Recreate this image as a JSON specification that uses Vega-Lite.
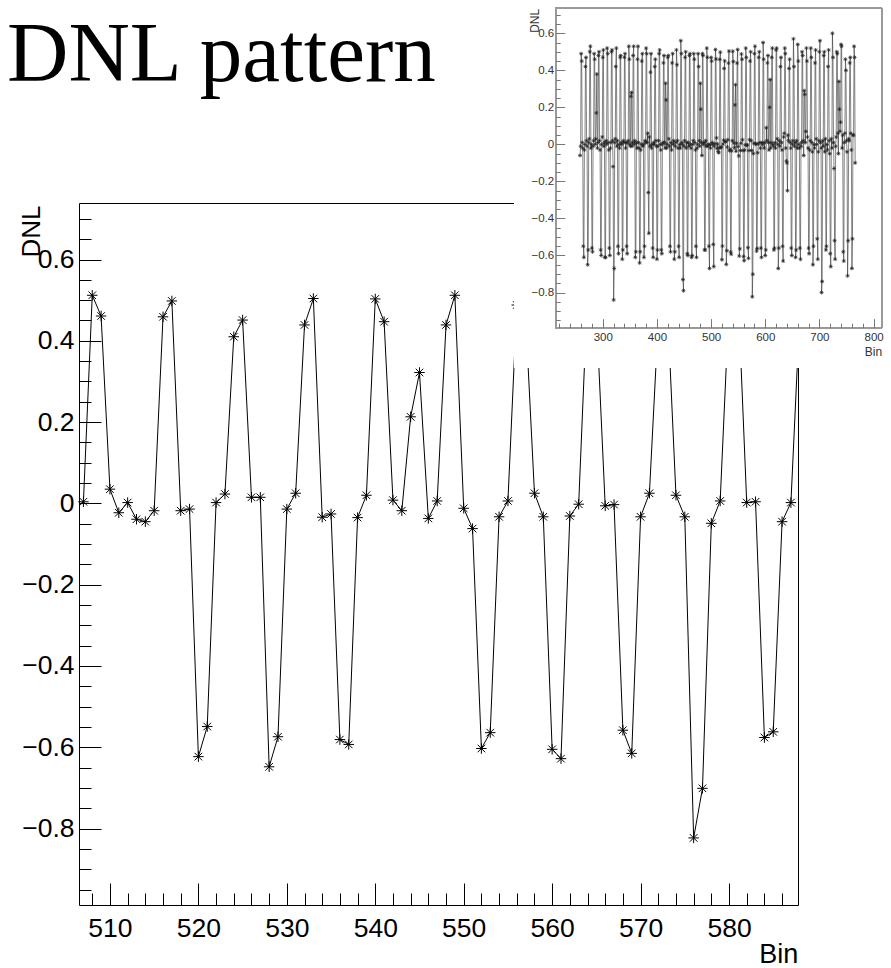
{
"$schema": "https://vega.github.io/schema/vega-lite/v6.json",
"width": 719, "height": 702,
"autosize": {"type": "none"},
"padding": {"left": 79, "top": 203, "right": 93, "bottom": 63},
"background": "white",
"title": {"text": "DNL pattern", "font": "Liberation Serif", "fontSize": 85, "fontWeight": "normal", "color": "black", "anchor": "start", "frame": "group", "dx": -72, "dy": 170, "offset": 0, "baseline": "alphabetic"},
"config": {"view": {"stroke": "black", "strokeWidth": 1}, "axis": {"grid": false, "labelFont": "Liberation Sans", "titleFont": "Liberation Sans", "titleFontWeight": "normal"}},
"datasets": {"dnl": [
{"b":258,"v":-0.06},{"b":259,"v":-0.01},{"b":260,"v":0.49},{"b":261,"v":0.45},{"b":262,"v":0.01},{"b":263,"v":-0.02},
{"b":264,"v":-0.55},{"b":265,"v":-0.61},{"b":266,"v":-0.03},{"b":267,"v":0.0},{"b":268,"v":0.42},{"b":269,"v":0.47},{"b":270,"v":0.02},{"b":271,"v":-0.01},
{"b":272,"v":-0.65},{"b":273,"v":-0.57},{"b":274,"v":0.01},{"b":275,"v":0.03},{"b":276,"v":0.5},{"b":277,"v":0.53},{"b":278,"v":-0.02},{"b":279,"v":0.0},
{"b":280,"v":-0.56},{"b":281,"v":-0.58},{"b":282,"v":-0.01},{"b":283,"v":0.02},{"b":284,"v":0.49},{"b":285,"v":0.46},{"b":286,"v":0.0},{"b":287,"v":0.03},
{"b":288,"v":0.17},{"b":289,"v":0.38},{"b":290,"v":-0.02},{"b":291,"v":0.01},{"b":292,"v":0.48},{"b":293,"v":0.5},{"b":294,"v":0.02},{"b":295,"v":-0.03},
{"b":296,"v":-0.57},{"b":297,"v":-0.6},{"b":298,"v":0.0},{"b":299,"v":0.04},{"b":300,"v":0.47},{"b":301,"v":0.51},{"b":302,"v":-0.01},{"b":303,"v":0.01},
{"b":304,"v":-0.61},{"b":305,"v":-0.61},{"b":306,"v":0.02},{"b":307,"v":0.0},{"b":308,"v":0.52},{"b":309,"v":0.49},{"b":310,"v":0.01},{"b":311,"v":-0.03},
{"b":312,"v":-0.56},{"b":313,"v":-0.6},{"b":314,"v":-0.02},{"b":315,"v":0.01},{"b":316,"v":0.5},{"b":317,"v":0.51},{"b":318,"v":0.02},{"b":319,"v":-0.12},
{"b":320,"v":-0.84},{"b":321,"v":-0.67},{"b":322,"v":0.01},{"b":323,"v":0.03},{"b":324,"v":0.42},{"b":325,"v":0.52},{"b":326,"v":-0.01},{"b":327,"v":0.02},
{"b":328,"v":-0.55},{"b":329,"v":-0.59},{"b":330,"v":0.0},{"b":331,"v":-0.02},{"b":332,"v":0.47},{"b":333,"v":0.48},{"b":334,"v":0.01},{"b":335,"v":0.0},
{"b":336,"v":-0.62},{"b":337,"v":-0.57},{"b":338,"v":0.02},{"b":339,"v":0.01},{"b":340,"v":0.47},{"b":341,"v":0.49},{"b":342,"v":-0.02},{"b":343,"v":0.01},
{"b":344,"v":-0.55},{"b":345,"v":-0.59},{"b":346,"v":0.01},{"b":347,"v":0.02},{"b":348,"v":0.53},{"b":349,"v":0.46},{"b":350,"v":0.0},{"b":351,"v":-0.01},
{"b":352,"v":0.26},{"b":353,"v":0.28},{"b":354,"v":-0.01},{"b":355,"v":0.01},{"b":356,"v":0.48},{"b":357,"v":0.53},{"b":358,"v":0.0},{"b":359,"v":0.02},
{"b":360,"v":-0.61},{"b":361,"v":-0.58},{"b":362,"v":0.01},{"b":363,"v":-0.02},{"b":364,"v":0.46},{"b":365,"v":0.53},{"b":366,"v":0.01},{"b":367,"v":-0.02},
{"b":368,"v":-0.64},{"b":369,"v":-0.58},{"b":370,"v":-0.03},{"b":371,"v":0.0},{"b":372,"v":0.45},{"b":373,"v":0.49},{"b":374,"v":-0.01},{"b":375,"v":0.0},
{"b":376,"v":-0.61},{"b":377,"v":-0.55},{"b":378,"v":0.02},{"b":379,"v":0.01},{"b":380,"v":0.52},{"b":381,"v":0.49},{"b":382,"v":0.01},{"b":383,"v":0.06},
{"b":384,"v":-0.26},{"b":385,"v":-0.48},{"b":386,"v":0.04},{"b":387,"v":-0.01},{"b":388,"v":0.39},{"b":389,"v":0.49},{"b":390,"v":-0.02},{"b":391,"v":0.0},
{"b":392,"v":-0.56},{"b":393,"v":-0.61},{"b":394,"v":0.01},{"b":395,"v":0.0},{"b":396,"v":0.42},{"b":397,"v":0.46},{"b":398,"v":0.02},{"b":399,"v":-0.01},
{"b":400,"v":-0.62},{"b":401,"v":-0.57},{"b":402,"v":-0.01},{"b":403,"v":0.02},{"b":404,"v":0.49},{"b":405,"v":0.51},{"b":406,"v":0.0},{"b":407,"v":-0.03},
{"b":408,"v":-0.57},{"b":409,"v":-0.59},{"b":410,"v":0.0},{"b":411,"v":0.01},{"b":412,"v":0.44},{"b":413,"v":0.48},{"b":414,"v":0.01},{"b":415,"v":-0.02},
{"b":416,"v":0.33},{"b":417,"v":0.24},{"b":418,"v":-0.02},{"b":419,"v":0.0},{"b":420,"v":0.47},{"b":421,"v":0.48},{"b":422,"v":0.03},{"b":423,"v":-0.01},
{"b":424,"v":-0.55},{"b":425,"v":-0.58},{"b":426,"v":0.01},{"b":427,"v":-0.03},{"b":428,"v":0.44},{"b":429,"v":0.49},{"b":430,"v":0.0},{"b":431,"v":0.02},
{"b":432,"v":-0.62},{"b":433,"v":-0.58},{"b":434,"v":-0.01},{"b":435,"v":0.01},{"b":436,"v":0.51},{"b":437,"v":0.43},{"b":438,"v":0.02},{"b":439,"v":-0.02},
{"b":440,"v":-0.55},{"b":441,"v":-0.61},{"b":442,"v":0.0},{"b":443,"v":-0.02},{"b":444,"v":0.56},{"b":445,"v":0.49},{"b":446,"v":0.01},{"b":447,"v":0.0},
{"b":448,"v":-0.73},{"b":449,"v":-0.79},{"b":450,"v":-0.01},{"b":451,"v":0.02},{"b":452,"v":0.47},{"b":453,"v":0.5},{"b":454,"v":-0.02},{"b":455,"v":0.01},
{"b":456,"v":-0.59},{"b":457,"v":-0.6},{"b":458,"v":0.01},{"b":459,"v":-0.01},{"b":460,"v":0.48},{"b":461,"v":0.49},{"b":462,"v":0.0},{"b":463,"v":-0.02},
{"b":464,"v":-0.61},{"b":465,"v":-0.6},{"b":466,"v":0.0},{"b":467,"v":0.02},{"b":468,"v":0.49},{"b":469,"v":0.46},{"b":470,"v":0.01},{"b":471,"v":-0.03},
{"b":472,"v":-0.55},{"b":473,"v":-0.61},{"b":474,"v":-0.02},{"b":475,"v":0.0},{"b":476,"v":0.49},{"b":477,"v":0.42},{"b":478,"v":0.02},{"b":479,"v":-0.01},
{"b":480,"v":0.33},{"b":481,"v":0.19},{"b":482,"v":0.01},{"b":483,"v":-0.06},{"b":484,"v":0.49},{"b":485,"v":0.48},{"b":486,"v":0.0},{"b":487,"v":0.01},
{"b":488,"v":-0.57},{"b":489,"v":-0.57},{"b":490,"v":0.02},{"b":491,"v":-0.01},{"b":492,"v":0.52},{"b":493,"v":0.47},{"b":494,"v":-0.01},{"b":495,"v":0.0},
{"b":496,"v":-0.55},{"b":497,"v":-0.67},{"b":498,"v":0.0},{"b":499,"v":-0.02},{"b":500,"v":0.47},{"b":501,"v":0.45},{"b":502,"v":0.01},{"b":503,"v":0.0},
{"b":504,"v":-0.54},{"b":505,"v":-0.66},{"b":506,"v":-0.01},{"b":507,"v":0.004},{"b":508,"v":0.512},{"b":509,"v":0.461},{"b":510,"v":0.035},{"b":511,"v":-0.023},
{"b":512,"v":0.002},{"b":513,"v":-0.039},{"b":514,"v":-0.045},{"b":515,"v":-0.018},{"b":516,"v":0.459},{"b":517,"v":0.498},{"b":518,"v":-0.018},{"b":519,"v":-0.014},
{"b":520,"v":-0.623},{"b":521,"v":-0.549},{"b":522,"v":0.002},{"b":523,"v":0.023},{"b":524,"v":0.41},{"b":525,"v":0.451},{"b":526,"v":0.015},{"b":527,"v":0.015},
{"b":528,"v":-0.648},{"b":529,"v":-0.574},{"b":530,"v":-0.014},{"b":531,"v":0.025},{"b":532,"v":0.439},{"b":533,"v":0.504},{"b":534,"v":-0.034},{"b":535,"v":-0.026},
{"b":536,"v":-0.581},{"b":537,"v":-0.593},{"b":538,"v":-0.035},{"b":539,"v":0.02},{"b":540,"v":0.503},{"b":541,"v":0.447},{"b":542,"v":0.008},{"b":543,"v":-0.018},
{"b":544,"v":0.213},{"b":545,"v":0.322},{"b":546,"v":-0.037},{"b":547,"v":0.006},{"b":548,"v":0.439},{"b":549,"v":0.512},{"b":550,"v":-0.012},{"b":551,"v":-0.062},
{"b":552,"v":-0.603},{"b":553,"v":-0.564},{"b":554,"v":-0.033},{"b":555,"v":0.006},{"b":556,"v":0.488},{"b":557,"v":0.46},{"b":558,"v":0.025},{"b":559,"v":-0.033},
{"b":560,"v":-0.605},{"b":561,"v":-0.628},{"b":562,"v":-0.031},{"b":563,"v":-0.002},{"b":564,"v":0.52},{"b":565,"v":0.47},{"b":566,"v":-0.006},{"b":567,"v":-0.003},
{"b":568,"v":-0.558},{"b":569,"v":-0.615},{"b":570,"v":-0.033},{"b":571,"v":0.025},{"b":572,"v":0.45},{"b":573,"v":0.5},{"b":574,"v":0.02},{"b":575,"v":-0.033},
{"b":576,"v":-0.823},{"b":577,"v":-0.701},{"b":578,"v":-0.049},{"b":579,"v":0.006},{"b":580,"v":0.49},{"b":581,"v":0.53},{"b":582,"v":0.002},{"b":583,"v":0.004},
{"b":584,"v":-0.576},{"b":585,"v":-0.562},{"b":586,"v":-0.045},{"b":587,"v":0.002},{"b":588,"v":0.47},{"b":589,"v":0.5},{"b":590,"v":0.01},{"b":591,"v":-0.02},
{"b":592,"v":-0.56},{"b":593,"v":-0.61},{"b":594,"v":0.01},{"b":595,"v":0.0},{"b":596,"v":0.55},{"b":597,"v":0.46},{"b":598,"v":-0.02},{"b":599,"v":0.01},
{"b":600,"v":-0.6},{"b":601,"v":-0.57},{"b":602,"v":0.09},{"b":603,"v":0.02},{"b":604,"v":0.44},{"b":605,"v":0.48},{"b":606,"v":0.01},{"b":607,"v":-0.03},
{"b":608,"v":0.2},{"b":609,"v":0.35},{"b":610,"v":-0.02},{"b":611,"v":0.01},{"b":612,"v":0.47},{"b":613,"v":0.52},{"b":614,"v":0.0},{"b":615,"v":-0.01},
{"b":616,"v":-0.57},{"b":617,"v":-0.56},{"b":618,"v":0.01},{"b":619,"v":-0.02},{"b":620,"v":0.51},{"b":621,"v":0.52},{"b":622,"v":0.03},{"b":623,"v":0.0},
{"b":624,"v":-0.67},{"b":625,"v":-0.56},{"b":626,"v":0.02},{"b":627,"v":-0.01},{"b":628,"v":0.42},{"b":629,"v":0.47},{"b":630,"v":0.01},{"b":631,"v":-0.03},
{"b":632,"v":-0.55},{"b":633,"v":-0.63},{"b":634,"v":0.04},{"b":635,"v":0.06},{"b":636,"v":0.52},{"b":637,"v":0.49},{"b":638,"v":-0.02},{"b":639,"v":-0.09},
{"b":640,"v":-0.1},{"b":641,"v":-0.25},{"b":642,"v":0.05},{"b":643,"v":0.02},{"b":644,"v":0.41},{"b":645,"v":0.46},{"b":646,"v":0.01},{"b":647,"v":-0.02},
{"b":648,"v":-0.56},{"b":649,"v":-0.6},{"b":650,"v":0.0},{"b":651,"v":0.02},{"b":652,"v":0.57},{"b":653,"v":0.42},{"b":654,"v":-0.01},{"b":655,"v":0.01},
{"b":656,"v":-0.61},{"b":657,"v":-0.57},{"b":658,"v":0.02},{"b":659,"v":-0.02},{"b":660,"v":0.54},{"b":661,"v":0.45},{"b":662,"v":0.0},{"b":663,"v":-0.02},
{"b":664,"v":-0.56},{"b":665,"v":-0.62},{"b":666,"v":-0.01},{"b":667,"v":0.01},{"b":668,"v":0.5},{"b":669,"v":0.48},{"b":670,"v":0.02},{"b":671,"v":-0.06},
{"b":672,"v":0.29},{"b":673,"v":0.27},{"b":674,"v":0.01},{"b":675,"v":0.07},{"b":676,"v":0.52},{"b":677,"v":0.45},{"b":678,"v":0.04},{"b":679,"v":-0.02},
{"b":680,"v":-0.56},{"b":681,"v":-0.59},{"b":682,"v":-0.03},{"b":683,"v":0.02},{"b":684,"v":0.52},{"b":685,"v":0.47},{"b":686,"v":0.01},{"b":687,"v":-0.04},
{"b":688,"v":-0.65},{"b":689,"v":-0.55},{"b":690,"v":0.0},{"b":691,"v":-0.02},{"b":692,"v":0.44},{"b":693,"v":0.51},{"b":694,"v":0.03},{"b":695,"v":0.0},
{"b":696,"v":-0.51},{"b":697,"v":-0.62},{"b":698,"v":-0.04},{"b":699,"v":0.02},{"b":700,"v":0.5},{"b":701,"v":0.56},{"b":702,"v":0.01},{"b":703,"v":-0.02},
{"b":704,"v":-0.8},{"b":705,"v":-0.74},{"b":706,"v":0.02},{"b":707,"v":-0.01},{"b":708,"v":0.48},{"b":709,"v":0.5},{"b":710,"v":-0.04},{"b":711,"v":0.03},
{"b":712,"v":-0.57},{"b":713,"v":-0.55},{"b":714,"v":0.0},{"b":715,"v":-0.03},{"b":716,"v":0.42},{"b":717,"v":0.51},{"b":718,"v":0.02},{"b":719,"v":-0.05},
{"b":720,"v":-0.59},{"b":721,"v":-0.66},{"b":722,"v":0.03},{"b":723,"v":-0.02},{"b":724,"v":0.6},{"b":725,"v":0.47},{"b":726,"v":0.01},{"b":727,"v":-0.13},
{"b":728,"v":-0.52},{"b":729,"v":-0.62},{"b":730,"v":-0.01},{"b":731,"v":0.04},{"b":732,"v":0.5},{"b":733,"v":0.49},{"b":734,"v":0.06},{"b":735,"v":-0.05},
{"b":736,"v":0.34},{"b":737,"v":0.19},{"b":738,"v":0.07},{"b":739,"v":0.12},{"b":740,"v":0.54},{"b":741,"v":0.53},{"b":742,"v":-0.02},{"b":743,"v":0.05},
{"b":744,"v":-0.58},{"b":745,"v":-0.63},{"b":746,"v":0.01},{"b":747,"v":0.06},{"b":748,"v":0.46},{"b":749,"v":0.4},{"b":750,"v":0.02},{"b":751,"v":-0.04},
{"b":752,"v":-0.71},{"b":753,"v":-0.52},{"b":754,"v":0.03},{"b":755,"v":0.02},{"b":756,"v":0.44},{"b":757,"v":0.47},{"b":758,"v":0.06},{"b":759,"v":-0.03},
{"b":760,"v":-0.67},{"b":761,"v":-0.51},{"b":762,"v":0.05},{"b":763,"v":0.05},{"b":764,"v":0.53},{"b":765,"v":0.47},{"b":766,"v":-0.1}
]},
"layer": [
{
"data": {"name": "dnl"},
"transform": [{"filter": "datum.b >= 506 && datum.b <= 588"}],
"encoding": {
"x": {"field": "b", "type": "quantitative", "scale": {"domain": [506.5, 587.8], "nice": false, "zero": false},
"axis": {"orient": "bottom", "values": [508,510,512,514,516,518,520,522,524,526,528,530,532,534,536,538,540,542,544,546,548,550,552,554,556,558,560,562,564,566,568,570,572,574,576,578,580,582,584,586],
"tickSize": {"condition": {"test": "datum.value % 10 === 0", "value": -22}, "value": -12},
"tickColor": "black", "tickWidth": 1, "domain": false,
"labelExpr": "datum.value % 10 === 0 ? format(datum.value, 'd') : ''",
"labelFontSize": 26.5, "labelColor": "black", "labelPadding": 32, "labelOverlap": false, "labelFlush": false, "labelBaseline": "top",
"title": "Bin", "titleFontSize": 27, "titleColor": "black", "titleAlign": "right", "titleAnchor": "end", "titleX": 718.7, "titleY": 57, "titleBaseline": "alphabetic"}},
"y": {"field": "v", "type": "quantitative", "scale": {"domain": [-0.988, 0.739], "nice": false, "zero": false},
"axis": {"orient": "left", "values": [-0.95,-0.9,-0.85,-0.8,-0.75,-0.7,-0.65,-0.6,-0.55,-0.5,-0.45,-0.4,-0.35,-0.3,-0.25,-0.2,-0.15,-0.1,-0.05,0,0.05,0.1,0.15,0.2,0.25,0.3,0.35,0.4,0.45,0.5,0.55,0.6,0.65,0.7],
"tickSize": {"condition": {"test": "abs(datum.value*5 - round(datum.value*5)) < 0.001", "value": -22}, "value": -12},
"tickColor": "black", "tickWidth": 1, "domain": false,
"labelExpr": "abs(datum.value*5 - round(datum.value*5)) < 0.001 ? (abs(datum.value) < 0.001 ? '0' : format(datum.value, '.1f')) : ''",
"labelFontSize": 26.5, "labelColor": "black", "labelPadding": 27, "labelOverlap": false, "labelFlush": false,
"title": "DNL", "titleFontSize": 26, "titleColor": "black", "titleAngle": 270, "titleAlign": "right", "titleAnchor": "end", "titleX": -40, "titleY": 2, "titleBaseline": "alphabetic"}}
},
"layer": [
{"mark": {"type": "line", "color": "black", "strokeWidth": 1, "clip": true}},
{"transform": [{"filter": "datum.b >= 507 && datum.b <= 587"}],
"mark": {"type": "point", "shape": "M0,-1L0,1M-1,0L1,0M-0.72,-0.72L0.72,0.72M-0.72,0.72L0.72,-0.72", "filled": false, "stroke": "black", "strokeWidth": 1, "size": 110, "opacity": 1}}
]
},
{
"data": {"name": "dnl"},
"encoding": {
"x": {"field": "b", "type": "quantitative", "scale": {"domain": [213, 815], "range": [476.7, 802.7], "nice": false, "zero": false},
"axis": {"orient": "bottom", "offset": -577.3, "zindex": 1, "values": [220,240,260,280,300,320,340,360,380,400,420,440,460,480,500,520,540,560,580,600,620,640,660,680,700,720,740,760,780,800],
"tickSize": {"condition": {"test": "datum.value % 100 === 0", "value": -9}, "value": -4.5},
"tickColor": "#777", "tickWidth": 1, "domain": false,
"labelExpr": "datum.value % 100 === 0 ? format(datum.value, 'd') : ''",
"labelFontSize": 11.5, "labelColor": "#333", "labelPadding": 13, "labelOverlap": false, "labelFlush": false, "labelBaseline": "top",
"title": "Bin", "titleFontSize": 12, "titleColor": "#333", "titleAlign": "right", "titleAnchor": "end", "titleX": 802.7, "titleY": 27.3, "titleBaseline": "alphabetic"}},
"y": {"field": "v", "type": "quantitative", "scale": {"domain": [-0.99, 0.735], "range": [124.7, -194.7], "nice": false, "zero": false},
"axis": {"orient": "left", "offset": -476.7, "zindex": 1, "values": [-0.95,-0.9,-0.85,-0.8,-0.75,-0.7,-0.65,-0.6,-0.55,-0.5,-0.45,-0.4,-0.35,-0.3,-0.25,-0.2,-0.15,-0.1,-0.05,0,0.05,0.1,0.15,0.2,0.25,0.3,0.35,0.4,0.45,0.5,0.55,0.6,0.65,0.7],
"tickSize": {"condition": {"test": "abs(datum.value*5 - round(datum.value*5)) < 0.001", "value": -9}, "value": -4.5},
"tickColor": "#777", "tickWidth": 1, "domain": false,
"labelExpr": "abs(datum.value*5 - round(datum.value*5)) < 0.001 ? (abs(datum.value) < 0.001 ? '0' : format(datum.value, '.1f')) : ''",
"labelFontSize": 11.5, "labelColor": "#333", "labelPadding": 11, "labelOverlap": false, "labelFlush": false,
"title": "DNL", "titleFontSize": 12, "titleColor": "#333", "titleAngle": 270, "titleAlign": "right", "titleAnchor": "end", "titleX": -17.7, "titleY": -194.7, "titleBaseline": "alphabetic"}}
},
"layer": [
{"mark": {"type": "rect", "fill": "white", "strokeWidth": 0},
"encoding": {"x": {"datum": 136, "type": "quantitative"}, "x2": {"datum": 837}, "y": {"datum": -1.208, "type": "quantitative"}, "y2": {"datum": 0.8}}},
{"mark": {"type": "line", "color": "#333", "strokeWidth": 0.6}},
{"mark": {"type": "point", "shape": "M0,-1L0,1M-1,0L1,0M-0.72,-0.72L0.72,0.72M-0.72,0.72L0.72,-0.72", "filled": false, "stroke": "#222", "strokeWidth": 0.7, "size": 16, "opacity": 1}},
{"mark": {"type": "rect", "fill": null, "stroke": "#999", "strokeWidth": 1},
"encoding": {"x": {"datum": 213, "type": "quantitative"}, "x2": {"datum": 815}, "y": {"datum": -0.99, "type": "quantitative"}, "y2": {"datum": 0.735}}}
]
}
],
"resolve": {"scale": {"x": "independent", "y": "independent"}, "axis": {"x": "independent", "y": "independent"}}
}
